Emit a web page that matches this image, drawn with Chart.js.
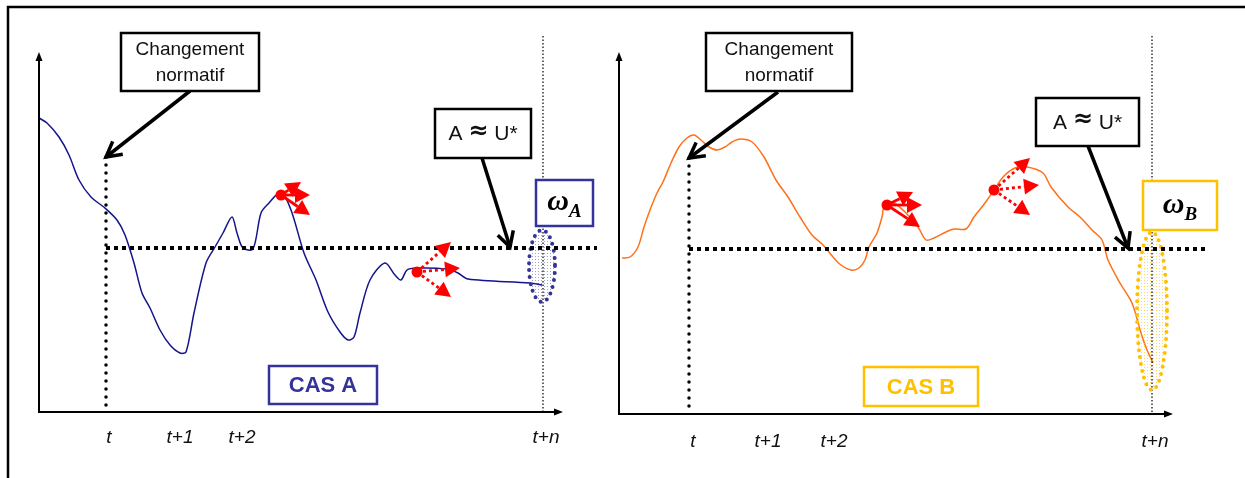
<!DOCTYPE html>
<html>
<head>
<meta charset="utf-8">
<script src="https://cdn.jsdelivr.net/npm/chart.js@4"></script>
<style>
  html, body { margin: 0; padding: 0; background: #fff; }
  #wrap { position: relative; width: 1245px; height: 478px; }
  canvas { position: absolute; left: 0; top: 0; }
</style>
</head>
<body>
<div id="wrap">
  <canvas id="chartA" width="1245" height="478"></canvas>
  <canvas id="chartB" width="1245" height="478"></canvas>
</div>
<script>
// values (arbitrary units: time, level)
const timeA  = [0, 8, 20, 30, 40, 52, 66, 78, 86, 95, 103, 111, 121, 131, 141, 147, 155, 167, 176, 184, 193, 198, 204, 214, 222, 230, 242, 252, 265, 277, 289, 301, 309, 315, 321, 331, 346, 356, 362, 368, 378, 408, 419, 429, 491, 503];
const levelA = [294, 289, 275, 257, 232, 215, 204, 192, 177, 149, 119, 104, 82, 67, 59, 60, 99, 149, 165, 179, 195, 179, 164, 163, 199, 209, 220, 202, 159, 132, 100, 80, 72, 75, 99, 132, 149, 137, 132, 142, 144, 143, 139, 133, 129, 127];

const timeB  = [3, 11, 19, 25, 31, 38, 44, 52, 60, 68, 75, 82, 90, 98, 106, 113, 121, 133, 145, 157, 169, 181, 193, 204, 214, 222, 232, 240, 246, 250, 258, 263, 266, 275, 287, 299, 307, 315, 327, 335, 347, 355, 366, 375, 384, 396, 408, 424, 432, 449, 461, 473, 483, 489, 501, 513, 522, 528, 534];
const levelB = [156, 157, 167, 187, 204, 221, 232, 251, 267, 276, 279, 274, 267, 264, 267, 272, 275, 272, 257, 234, 217, 197, 179, 169, 157, 149, 144, 146, 154, 167, 181, 197, 211, 211, 201, 187, 174, 176, 182, 185, 185, 197, 211, 224, 237, 246, 247, 241, 227, 207, 197, 184, 174, 154, 131, 111, 81, 64, 51];

const tickLabels = ['t', 't+1', 't+2', 't+n'];
const tickPosA = [70, 141, 203, 507];
const tickPosB = [74, 149, 215, 536];

const SANS = '"Liberation Sans", Arial, sans-serif';
const SERIF = '"Liberation Serif", "DejaVu Serif", serif';

// annotation layout, in the same units as the data
const notesA = {
  frame: true,
  xmax: 524, ymax: 360,
  tX: 67, tTop: 255, th: 164, thEnd: 558,
  nX: 504, nTop: 376,
  normBox: [82, 379, 220, 321], normFrom: [151, 321], normTo: [67, 255],
  auBox: [396, 303, 492, 254], auFrom: [443, 254], auTo: [471, 165],
  omBox: [497, 232, 554, 186], omSub: 'A',
  casBox: [230, 46, 338, 8], casText: 'CAS A',
  ell: [503, 146, 13, 36],
  accent: '#333399', stipple: 'rgba(80,80,170,0.55)',
  solidDot: [242, 217], solidTo: [[262, 230], [271, 217], [271, 197]],
  dotDot: [378, 140], dotTo: [[412, 170], [421, 144], [412, 115]],
  ticks: tickPosA, tickGap: 26
};
const notesB = {
  frame: false,
  xmax: 554, ymax: 362,
  tX: 70, tTop: 256, th: 165, thEnd: 590,
  nX: 533, nTop: 378,
  normBox: [87, 381, 233, 323], normFrom: [159, 322], normTo: [70, 256],
  auBox: [417, 316, 520, 268], auFrom: [469, 268], auTo: [509, 166],
  omBox: [524, 233, 598, 184], omSub: 'B',
  casBox: [245, 47, 359, 8], casText: 'CAS B',
  ell: [533, 103, 15, 79],
  accent: '#FFC000', stipple: 'rgba(255,192,0,0.6)',
  solidDot: [268, 209], solidTo: [[294, 222], [303, 209], [301, 187]],
  dotDot: [375, 224], dotTo: [[411, 256], [420, 229], [411, 199]],
  ticks: tickPosB, tickGap: 28
};

function stipple(ctx, color) {
  const c = document.createElement('canvas');
  c.width = 3; c.height = 3;
  const g = c.getContext('2d');
  g.fillStyle = color;
  g.fillRect(1, 1, 1, 1);
  return ctx.createPattern(c, 'repeat');
}

function openArrow(ctx, x1, y1, x2, y2) {
  const a = Math.atan2(y2 - y1, x2 - x1);
  ctx.beginPath();
  ctx.moveTo(x1, y1);
  ctx.lineTo(x2, y2);
  ctx.stroke();
  ctx.beginPath();
  ctx.moveTo(x2 - 17 * Math.cos(a - 0.5), y2 - 17 * Math.sin(a - 0.5));
  ctx.lineTo(x2, y2);
  ctx.lineTo(x2 - 17 * Math.cos(a + 0.5), y2 - 17 * Math.sin(a + 0.5));
  ctx.stroke();
}

function solidHead(ctx, x1, y1, x2, y2, len, half) {
  const a = Math.atan2(y2 - y1, x2 - x1);
  const bx = x2 - len * Math.cos(a), by = y2 - len * Math.sin(a);
  ctx.beginPath();
  ctx.moveTo(x2, y2);
  ctx.lineTo(bx + half * Math.sin(a), by - half * Math.cos(a));
  ctx.lineTo(bx - half * Math.sin(a), by + half * Math.cos(a));
  ctx.closePath();
  ctx.fill();
  return [bx, by];
}

function sketchPlugin(n) {
  return {
    id: 'sketch',
    afterDatasetsDraw(chart) {
      const ctx = chart.ctx;
      const X = v => chart.scales.x.getPixelForValue(v);
      const Y = v => chart.scales.y.getPixelForValue(v);
      ctx.save();

      if (n.frame) {
        ctx.strokeStyle = '#000';
        ctx.lineWidth = 2.5;
        ctx.beginPath();
        ctx.moveTo(8, 478); ctx.lineTo(8, 7); ctx.lineTo(1245, 7);
        ctx.stroke();
      }

      // axes with arrow tips
      ctx.strokeStyle = '#000';
      ctx.fillStyle = '#000';
      ctx.lineWidth = 2;
      ctx.beginPath();
      ctx.moveTo(X(0), Y(n.ymax) + 6); ctx.lineTo(X(0), Y(0)); ctx.lineTo(X(n.xmax) - 6, Y(0));
      ctx.stroke();
      solidHead(ctx, X(0), Y(0), X(0), Y(n.ymax), 9, 3.5);
      solidHead(ctx, X(0), Y(0), X(n.xmax), Y(0), 9, 3.5);

      // thin dotted line at t+n
      ctx.lineWidth = 1.2;
      ctx.setLineDash([1.5, 2]);
      ctx.beginPath();
      ctx.moveTo(X(n.nX), Y(n.nTop)); ctx.lineTo(X(n.nX), Y(0));
      ctx.stroke();

      // ellipse around the final value
      ctx.setLineDash([]);
      const ex = X(n.ell[0]), ey = Y(n.ell[1]);
      ctx.beginPath();
      ctx.ellipse(ex, ey, n.ell[2], n.ell[3], 0, 0, Math.PI * 2);
      ctx.fillStyle = stipple(ctx, n.stipple);
      ctx.fill();
      ctx.strokeStyle = n.accent;
      ctx.lineWidth = 4;
      ctx.lineCap = 'round';
      ctx.setLineDash([0, 7]);
      ctx.stroke();

      // vertical dotted at t
      ctx.strokeStyle = '#000';
      ctx.lineWidth = 3.5;
      ctx.setLineDash([0, 8]);
      ctx.beginPath();
      ctx.moveTo(X(n.tX), Y(n.tTop)); ctx.lineTo(X(n.tX), Y(0) - 2);
      ctx.stroke();

      // threshold
      ctx.lineCap = 'butt';
      ctx.lineWidth = 4;
      ctx.setLineDash([4, 4]);
      ctx.beginPath();
      ctx.moveTo(X(n.tX), Y(n.th)); ctx.lineTo(X(n.thEnd), Y(n.th));
      ctx.stroke();
      ctx.setLineDash([]);

      // boxes
      function box(b, color, w) {
        const x = X(b[0]), y = Y(b[1]), bw = X(b[2]) - x, bh = Y(b[3]) - y;
        ctx.fillStyle = '#fff';
        ctx.fillRect(x, y, bw, bh);
        ctx.strokeStyle = color;
        ctx.lineWidth = w;
        ctx.strokeRect(x, y, bw, bh);
        return [x + bw / 2, y + bh / 2];
      }

      // black arrows
      ctx.strokeStyle = '#000';
      ctx.lineWidth = 3.5;
      ctx.lineJoin = 'miter';
      openArrow(ctx, X(n.normFrom[0]), Y(n.normFrom[1]), X(n.normTo[0]), Y(n.normTo[1]));
      openArrow(ctx, X(n.auFrom[0]), Y(n.auFrom[1]), X(n.auTo[0]), Y(n.auTo[1]));

      ctx.textAlign = 'center';
      ctx.textBaseline = 'middle';

      let c = box(n.normBox, '#000', 2.5);
      ctx.fillStyle = '#111';
      ctx.font = '19px ' + SANS;
      ctx.fillText('Changement', c[0], c[1] - 12);
      ctx.fillText('normatif', c[0], c[1] + 14);

      // "A ≈ U*" with a heavier approx sign
      c = box(n.auBox, '#000', 2.5);
      ctx.fillStyle = '#111';
      ctx.textAlign = 'left';
      const fA = '21px ' + SANS, fEq = 'bold 24px "DejaVu Sans", sans-serif';
      ctx.font = fA;
      const wA = ctx.measureText('A ').width, wU = ctx.measureText(' U*').width;
      ctx.font = fEq;
      const wE = ctx.measureText('\u2248').width;
      let tx = c[0] - (wA + wE + wU) / 2;
      ctx.font = fA;
      ctx.fillText('A ', tx, c[1] + 1);
      ctx.font = fEq;
      ctx.fillText('\u2248', tx + wA, c[1] - 2);
      ctx.font = fA;
      ctx.fillText(' U*', tx + wA + wE, c[1] + 1);

      c = box(n.omBox, n.accent, 2.5);
      ctx.fillStyle = '#000';
      ctx.textAlign = 'left';
      ctx.textBaseline = 'alphabetic';
      ctx.font = 'italic bold 30px ' + SERIF;
      const ow = ctx.measureText('\u03c9').width;
      ctx.font = 'italic bold 19px ' + SERIF;
      const sw = ctx.measureText(n.omSub).width;
      const ox = c[0] - (ow + sw) / 2;
      ctx.font = 'italic bold 30px ' + SERIF;
      ctx.fillText('\u03c9', ox, c[1] + 7);
      ctx.font = 'italic bold 19px ' + SERIF;
      ctx.fillText(n.omSub, ox + ow, c[1] + 14);

      c = box(n.casBox, n.accent, 2.5);
      ctx.fillStyle = n.accent;
      ctx.textAlign = 'center';
      ctx.textBaseline = 'middle';
      ctx.font = 'bold 22px ' + SANS;
      ctx.fillText(n.casText, c[0], c[1] + 1);

      // red moves: solid then dotted
      ctx.fillStyle = '#ff0000';
      ctx.strokeStyle = '#ff0000';
      ctx.lineWidth = 2.8;
      [[n.solidDot, n.solidTo, []], [n.dotDot, n.dotTo, [3, 3]]].forEach(([d, ts, dash]) => {
        const dx = X(d[0]), dy = Y(d[1]);
        ts.forEach(t => {
          const tx2 = X(t[0]), ty2 = Y(t[1]);
          const base = solidHead(ctx, dx, dy, tx2, ty2, 15, 8);
          ctx.setLineDash(dash);
          ctx.beginPath();
          ctx.moveTo(dx, dy); ctx.lineTo(base[0], base[1]);
          ctx.stroke();
          ctx.setLineDash([]);
        });
        ctx.beginPath();
        ctx.arc(dx, dy, 5.5, 0, Math.PI * 2);
        ctx.fill();
      });

      // tick labels
      ctx.fillStyle = '#111';
      ctx.font = 'italic 19px ' + SANS;
      ctx.textAlign = 'center';
      ctx.textBaseline = 'middle';
      n.ticks.forEach((p, i) => ctx.fillText(tickLabels[i], X(p), Y(0) + n.tickGap));

      ctx.restore();
    }
  };
}

function makeChart(id, times, levels, color, n, padding) {
  return new Chart(document.getElementById(id), {
    type: 'line',
    data: {
      datasets: [{
        data: times.map((t, i) => ({ x: t, y: levels[i] })),
        borderColor: color,
        borderWidth: 1.5,
        pointRadius: 0,
        tension: 0.3,
        fill: false
      }]
    },
    options: {
      responsive: false,
      animation: false,
      devicePixelRatio: 1,
      layout: { padding: padding },
      scales: {
        x: { type: 'linear', min: 0, max: n.xmax, display: false },
        y: { min: 0, max: n.ymax, display: false }
      },
      plugins: { legend: { display: false }, tooltip: { enabled: false } }
    },
    plugins: [sketchPlugin(n)]
  });
}

makeChart('chartA', timeA, levelA, '#14148c', notesA, { left: 39, right: 1245 - 563, top: 52, bottom: 478 - 412 });
makeChart('chartB', timeB, levelB, '#ff7019', notesB, { left: 619, right: 1245 - 1173, top: 52, bottom: 478 - 414 });
</script>
</body>
</html>
